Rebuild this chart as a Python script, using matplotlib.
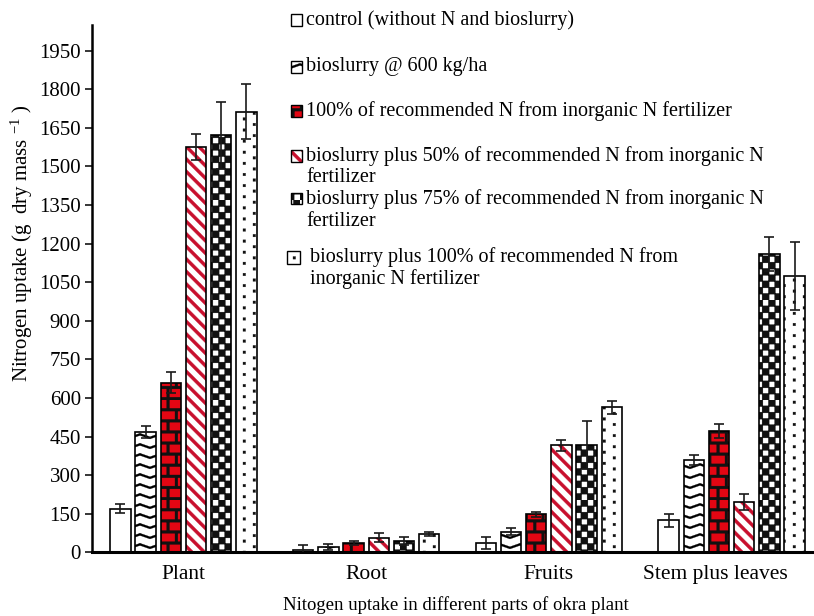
import numpy as np
import matplotlib
matplotlib.use("Agg")
import matplotlib.pyplot as plt
import matplotlib.hatch as mhatch
from matplotlib.path import Path
from matplotlib.patches import Rectangle

# ---------------- data ----------------
categories = ["Plant", "Root", "Fruits", "Stem plus leaves"]
series_labels = [
    "control (without N and bioslurry)",
    "bioslurry @ 600 kg/ha",
    "100% of recommended N from inorganic N fertilizer",
    "bioslurry plus 50% of recommended N from inorganic N\nfertilizer",
    "bioslurry plus 75% of recommended N from inorganic N\nfertilizer",
    "bioslurry plus 100% of recommended N from\ninorganic N fertilizer",
]
control = [170, 8, 36, 124]
control_err = [19, 20, 22, 26]
bioslurry = [467, 20, 80, 359]
bioslurry_err = [24, 13, 13, 18]
n100 = [660, 36, 148, 471]
n100_err = [40, 8, 10, 28]
bio50 = [1577, 57, 416, 196]
bio50_err = [50, 18, 22, 31]
bio75 = [1622, 44, 416, 1158]
bio75_err = [130, 14, 94, 66]
bio100 = [1713, 70, 563, 1074]
bio100_err = [108, 8, 25, 133]
yticks = list(range(0, 2000, 150))
xlabel = "Nitogen uptake in different parts of okra plant"
ylabel = r"Nitrogen uptake (g  dry mass $^{-1}$ )"

values = [control, bioslurry, n100, bio50, bio75, bio100]
errors = [control_err, bioslurry_err, n100_err, bio50_err, bio75_err, bio100_err]

# ---------------- custom hatch patterns ----------------
def _polys_to_vc(polys):
    verts, codes = [], []
    for p in polys:
        verts.extend(p)
        verts.append(p[0])
        codes.extend([Path.MOVETO] + [Path.LINETO] * (len(p) - 1) + [Path.CLOSEPOLY])
    return np.array(verts, float), np.array(codes, Path.code_type)


class _Custom(mhatch.HatchPatternBase):
    char = None

    def __init__(self, hatch, density):
        if hatch is not None and self.char in hatch:
            self.v, self.c = _polys_to_vc(self.polys())
            self.num_vertices = len(self.v)
        else:
            self.num_vertices = 0

    def set_vertices_and_codes(self, vertices, codes):
        vertices[:] = self.v
        codes[:] = self.c


class Chevron(_Custom):
    char = "o"

    def polys(self):
        out = []
        amp, t = 0.035, 0.022
        for j in range(10):
            y0 = (j + 0.5) / 10 + amp / 2
            for i in range(5):
                x0 = i / 5
                xm, x1 = x0 + 0.1, x0 + 0.2
                out.append([(x0, y0), (xm, y0 - amp), (x1, y0),
                            (x1, y0 - t), (xm, y0 - amp - t), (x0, y0 - t)])
        return out


class Brick(_Custom):
    char = "O"

    def polys(self):
        out = []
        h, w = 0.028, 0.028
        for j in range(9):
            y = j / 9
            out.append([(0, y), (1, y), (1, y + h), (0, y + h)])
            for i in range(7):
                x = i / 6 + (j % 2) / 12
                out.append([(x, y + h), (x + w, y + h), (x + w, y + 1 / 9), (x, y + 1 / 9)])
        return out


class Checker(_Custom):
    char = "*"

    def polys(self):
        out = []
        n = 16
        s = 1 / n
        e = 0.004
        for i in range(n):
            for j in range(n):
                if (i + j) % 2 == 0:
                    out.append([(i * s - e, j * s - e), ((i + 1) * s + e, j * s - e),
                                ((i + 1) * s + e, (j + 1) * s + e), (i * s - e, (j + 1) * s + e)])
        return out


class Dots(_Custom):
    char = "."

    def polys(self):
        out = []
        s = 0.026
        for i in range(10):
            for j in range(9):
                x = i / 10 + 0.03
                y = (j + 0.5 * (i % 2)) / 9 + 0.02
                out.append([(x, y), (x + s, y), (x + s, y + s), (x, y + s)])
        return out


class Stripes(_Custom):
    char = "/"

    def polys(self):
        out = []
        t = 0.045
        for k in range(0, 18):
            c = k / 8
            out.append([(0, c), (1, c - 1), (1, c - 1 + t), (0, c + t)])
        return out


mhatch._hatch_types[:] = [Chevron, Brick, Checker, Dots, Stripes]

faces = ["white", "white", "#e30613", "white", "white", "white"]
hatch_colors = ["black", "black", "#111111", "#c8102e", "#111111", "#111111"]
hatches = [None, "o", "O", "/", "*", "."]

# ---------------- style ----------------
plt.rcParams["font.family"] = ["Liberation Serif", "DejaVu Serif"]
plt.rcParams["mathtext.fontset"] = "custom"
plt.rcParams["mathtext.rm"] = "Liberation Serif"
plt.rcParams["mathtext.it"] = "Liberation Serif:italic"
plt.rcParams["hatch.linewidth"] = 0.2

W, H = 814, 616
fig = plt.figure(figsize=(W / 100, H / 100), dpi=100)
ax_left, ax_bottom_px, ax_top_px, ax_right = 92, 552.3, 25, 823
ax = fig.add_axes([ax_left / W, (H - ax_bottom_px) / H,
                   (ax_right - ax_left) / W, (ax_bottom_px - ax_top_px) / H])

x = np.arange(len(categories))
pitch = 0.138
width = 0.112
for i, (vals, errs) in enumerate(zip(values, errors)):
    xs = x + (i - 2.5) * pitch
    ax.bar(xs, vals, width, color=faces[i], edgecolor=hatch_colors[i],
           hatch=hatches[i], linewidth=0, zorder=2)
    ax.bar(xs, vals, width, fill=False, edgecolor="black", linewidth=1.2, zorder=3)
    ax.errorbar(xs, vals, yerr=errs, fmt="none", ecolor="#1a1a1a",
                elinewidth=1.2, capsize=3.4, capthick=1.2, zorder=4)

ax.set_xlim(-0.5, len(categories) - 0.5)
ax.set_ylim(0, 2050)
ax.set_yticks(yticks)
ax.set_yticklabels([str(v) for v in yticks])
tick_pos = list(x.astype(float))
tick_pos[-1] = tick_pos[-1] - 0.088
ax.set_xticks(tick_pos)
ax.set_xticklabels(categories)
ax.tick_params(axis="x", length=0, pad=9, labelsize=15.5)
ax.tick_params(axis="y", direction="out", length=5, width=1.1, labelsize=15, pad=3)

for s in ["top", "right"]:
    ax.spines[s].set_visible(False)
ax.spines["left"].set_linewidth(1.8)
ax.spines["bottom"].set_linewidth(2.2)

ax.set_ylabel(ylabel, fontsize=15)
ax.yaxis.set_label_coords(-0.078, 0.587)
ax.set_xlabel(xlabel, fontsize=13.5)
ax.xaxis.set_label_coords(0.498, -0.083)

# ---------------- legend (manual layout) ----------------
leg_rows = [20, 67, 111, 156, 199, 257]    # pixel y of first-line centres
line_gap = 22
text_x = [306, 306, 306, 306, 306, 310]
box_x = [291, 291, 291, 291, 291, 287]
box_size = [11, 11, 11, 11, 11, 13]
for i, lab in enumerate(series_labels):
    yc = leg_rows[i]
    bs = box_size[i]
    rect_kw = dict(transform=fig.transFigure)
    fig.add_artist(Rectangle((box_x[i] / W, (H - yc - bs / 2) / H), bs / W, bs / H,
                             facecolor=faces[i], edgecolor=hatch_colors[i],
                             hatch=hatches[i], linewidth=0, **rect_kw))
    fig.add_artist(Rectangle((box_x[i] / W, (H - yc - bs / 2) / H), bs / W, bs / H,
                             fill=False, edgecolor="black", linewidth=1.0, **rect_kw))
    for k, line in enumerate(lab.split("\n")):
        fig.text(text_x[i] / W, (H - yc - k * line_gap) / H, line,
                 fontsize=14.5, ha="left", va="center")

fig.savefig("out.png", dpi=100)
